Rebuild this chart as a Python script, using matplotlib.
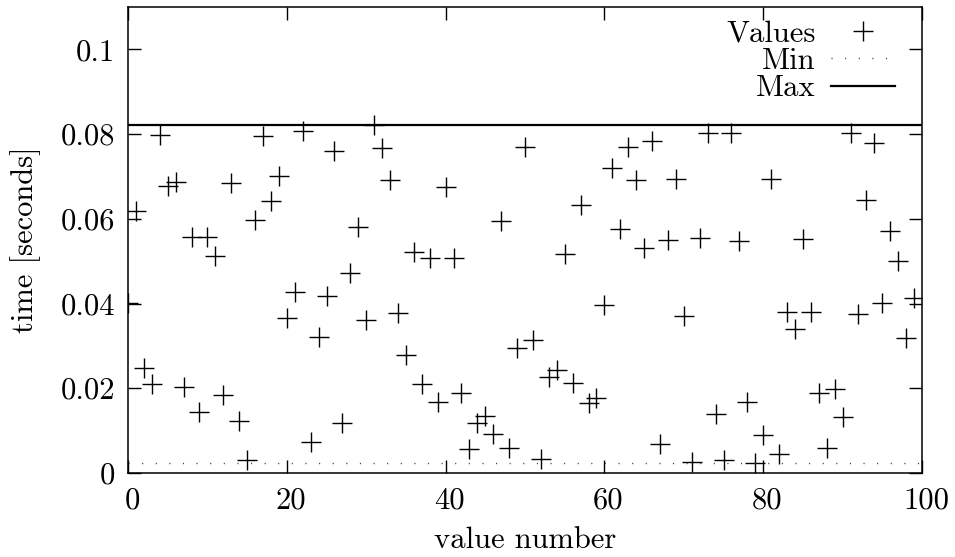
import matplotlib
matplotlib.use("Agg")
import matplotlib.pyplot as plt
import matplotlib.transforms as mtransforms
from matplotlib.ticker import FuncFormatter
import numpy as np

plt.rcParams['font.family'] = ['cmr10', 'DejaVu Serif']
plt.rcParams['mathtext.fontset'] = 'cm'
plt.rcParams['axes.unicode_minus'] = False
plt.rcParams['axes.formatter.use_mathtext'] = True

# measured times, one per value number 0..99
times = [
    0.0402, 0.0619, 0.0249, 0.0210, 0.0798, 0.0678, 0.0688, 0.0203, 0.0557, 0.0144,
    0.0556, 0.0513, 0.0184, 0.0685, 0.0123, 0.0031, 0.0598, 0.0796, 0.0643, 0.0700,
    0.0366, 0.0427, 0.0808, 0.0074, 0.0321, 0.0417, 0.0760, 0.0119, 0.0472, 0.0581,
    0.0361, 0.0822, 0.0768, 0.0692, 0.0378, 0.0279, 0.0522, 0.0210, 0.0508, 0.0168,
    0.0676, 0.0508, 0.0189, 0.0057, 0.0119, 0.0135, 0.0091, 0.0596, 0.0060, 0.0294,
    0.0770, 0.0314, 0.0033, 0.0227, 0.0243, 0.0517, 0.0213, 0.0633, 0.0166, 0.0177,
    0.0397, 0.0721, 0.0577, 0.0770, 0.0692, 0.0532, 0.0784, 0.0068, 0.0551, 0.0694,
    0.0371, 0.0026, 0.0555, 0.0803, 0.0140, 0.0031, 0.0803, 0.0548, 0.0168, 0.0024,
    0.0090, 0.0694, 0.0046, 0.0380, 0.0340, 0.0553, 0.0380, 0.0190, 0.0059, 0.0198,
    0.0132, 0.0803, 0.0375, 0.0644, 0.0779, 0.0402, 0.0572, 0.0500, 0.0319, 0.0413,
]
value_number = np.arange(len(times))
t_min = min(times)
t_max = max(times)

xticks = [0, 20, 40, 60, 80, 100]
yticks = [0, 0.02, 0.04, 0.06, 0.08, 0.1]

fig = plt.figure(figsize=(9.55, 5.57), dpi=100)
ax = fig.add_axes([128 / 955, 1 - 473 / 557, (922 - 128) / 955, (473 - 7) / 557])

ax.plot(value_number, times, linestyle='none', marker='+', markersize=15,
        markeredgewidth=1.0, color='black', label='Values')
ax.axhline(t_min, color='#444444', linewidth=1.0, linestyle=(0, (0.8, 9.0)), label='Min')
ax.axhline(t_max, color='black', linewidth=1.6, label='Max')

ax.set_xlim(0, 100)
ax.set_ylim(0, 0.11)
ax.set_xticks(xticks)
ax.set_yticks(yticks)
ax.yaxis.set_major_formatter(FuncFormatter(lambda v, p: '%g' % v))
ax.xaxis.set_major_formatter(FuncFormatter(lambda v, p: '%g' % v))
ax.tick_params(axis='both', which='major', direction='in', length=9.5, width=1.0,
               top=True, right=True, labelsize=22, colors='black')
ax.tick_params(axis='y', pad=9.5)
ax.tick_params(axis='x', pad=10)
for sp in ax.spines.values():
    sp.set_linewidth(1.1)

# gnuplot puts the x labels a hair to the right
off = mtransforms.ScaledTranslation(4 / 100, 0, fig.dpi_scale_trans)
for lab in ax.get_xticklabels():
    lab.set_transform(lab.get_transform() + off)

ax.set_xlabel('value number', fontsize=22)
ax.set_ylabel('time [seconds]', fontsize=22)
ax.xaxis.set_label_coords(0.5, -(548 - 473) / 466)
ax.xaxis.label.set_va('baseline')
ax.yaxis.set_label_coords((26 - 128) / 794, 0.5)
ax.yaxis.label.set_va('center')

leg = ax.legend(loc='upper right', bbox_to_anchor=((895 - 128) / 794, (473 - 20) / 466),
                frameon=False, markerfirst=False, fontsize=22,
                handlelength=2.1, handletextpad=0.5, labelspacing=0.0,
                borderaxespad=0.0, borderpad=0.0)

plt.savefig('out.png', dpi=100)
plt.close()
